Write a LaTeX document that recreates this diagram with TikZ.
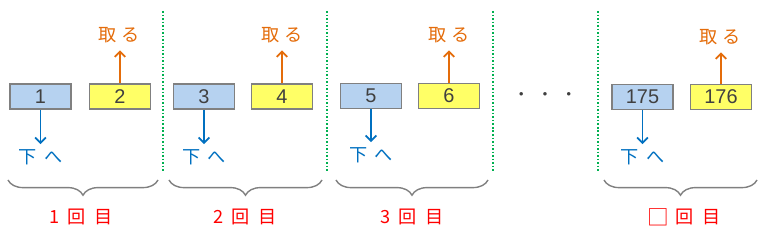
\documentclass[tikz,border=0pt]{standalone}
\usepackage{fontspec}
\setmainfont{Liberation Sans}
\newfontfamily\jp{Noto Sans CJK JP}
\usetikzlibrary{arrows.meta,decorations.pathreplacing}

\definecolor{hakoao}{RGB}{182,210,240}
\definecolor{hakoki}{RGB}{255,255,102}
\definecolor{waku}{RGB}{128,128,128}
\definecolor{suuji}{RGB}{64,64,64}
\definecolor{aoya}{RGB}{0,112,192}
\definecolor{daidai}{RGB}{228,108,10}
\definecolor{midori}{RGB}{0,176,80}

\begin{document}
\begin{tikzpicture}[
    x=0.03cm, y=-0.03cm,     % 1 px = 0.03 cm
    >={Straight Barb[length=4.5pt,width=9pt]},
    hako/.style={draw=waku, line width=1.6pt, minimum width=1.83cm,
        minimum height=0.75cm, inner sep=0pt, text=suuji,
        font=\fontsize{17}{17}\selectfont},
    ao/.style={hako, fill=hakoao},
    ki/.style={hako, fill=hakoki},
    toru/.style={text=daidai, font=\jp\fontsize{15.5}{15.5}\selectfont},
    shita/.style={text=aoya, font=\jp\fontsize{15.5}{15.5}\selectfont},
    kaisu/.style={text=red, font=\jp\fontsize{15.5}{15.5}\selectfont},
    uemuki/.style={->, daidai, line width=1.5pt, shorten >=3pt},
    shitamuki/.style={->, aoya, line width=1.5pt, shorten >=1pt},
    sikiri/.style={midori, line width=1.3pt, dash pattern=on 1.3pt off 1.7pt},
    kakko/.style={waku, line width=1.2pt, decorate,
        decoration={brace, mirror, amplitude=13pt}}
]
    \useasboundingbox (0,0) rectangle (775,234);

    % --- 1. 箱 (Boxes) ---
    \node[ao] (b1) at (40.5, 96.5) {1};
    \node[ki] (b2) at (120, 96.5) {2};
    \node[ao] (b3) at (204, 96.5) {3};
    \node[ki] (b4) at (282, 96.5) {4};
    \node[ao] (b5) at (371, 96) {5};
    \node[ki] (b6) at (449, 96) {6};
    \node[ao] (b175) at (642.5, 97) {175};
    \node[ki] (b176) at (721, 97) {176};

    % --- 2. 取る / 下へ ---
    \node[toru] (t1) at (119, 35) {取\hspace{0.3em}る};
    \node[toru] (t2) at (282, 35) {取\hspace{0.3em}る};
    \node[toru] (t3) at (449, 35) {取\hspace{0.3em}る};
    \node[toru] (t4) at (720, 37) {取\hspace{0.3em}る};

    \node[shita] (s1) at (40.5, 157) {下\hspace{0.4em}へ};
    \node[shita] (s2) at (204, 157) {下\hspace{0.4em}へ};
    \node[shita] (s3) at (371, 155) {下\hspace{0.4em}へ};
    \node[shita] (s4) at (642.5, 157) {下\hspace{0.4em}へ};

    \draw[uemuki] (b2) -- (b2 |- t1.south);
    \draw[uemuki] (b4) -- (b4 |- t2.south);
    \draw[uemuki] (b6) -- (b6 |- t3.south);
    \draw[uemuki] (b176) -- (b176 |- t4.south);

    \draw[shitamuki] (b1) -- (s1);
    \draw[shitamuki] (b3) -- (s2);
    \draw[shitamuki] (b5) -- (s3);
    \draw[shitamuki] (b175) -- (s4);

    % 省略の点
    \node[text=suuji, font=\jp\fontsize{14}{14}\selectfont] (ten) at (545, 97)
        {・\hspace{0.45em}・\hspace{0.45em}・};

    % --- 3. 仕切り (Dotted separators) ---
    \draw[sikiri] (163, 11) -- (163, 172);
    \draw[sikiri] (327, 11) -- (327, 172);
    \draw[sikiri] (493, 11) -- (493, 172);
    \draw[sikiri] (598, 11) -- (598, 172);

    % --- 4. 括弧と回数 (Braces) ---
    \coordinate (k1a) at (8, 180);   \coordinate (k1b) at (158, 180);
    \coordinate (k2a) at (169, 180); \coordinate (k2b) at (322, 180);
    \coordinate (k3a) at (336, 180); \coordinate (k3b) at (488, 180);
    \coordinate (k4a) at (604, 180); \coordinate (k4b) at (757, 180);

    \draw[kakko] (k1a) -- (k1b);
    \draw[kakko] (k2a) -- (k2b);
    \draw[kakko] (k3a) -- (k3b);
    \draw[kakko] (k4a) -- (k4b);

    \node[kaisu] (n1) at (81, 217) {1\hspace{0.45em}回\hspace{0.45em}目};
    \node[kaisu] (n2) at (245, 217) {2\hspace{0.45em}回\hspace{0.45em}目};
    \node[kaisu] (n3) at (412, 217) {3\hspace{0.45em}回\hspace{0.45em}目};
    \node[kaisu] (n4) at (684, 217)
        {\raisebox{-1.2pt}{\fontsize{18.5}{18.5}\selectfont □}\hspace{0.35em}回\hspace{0.45em}目};

\end{tikzpicture}
\end{document}
